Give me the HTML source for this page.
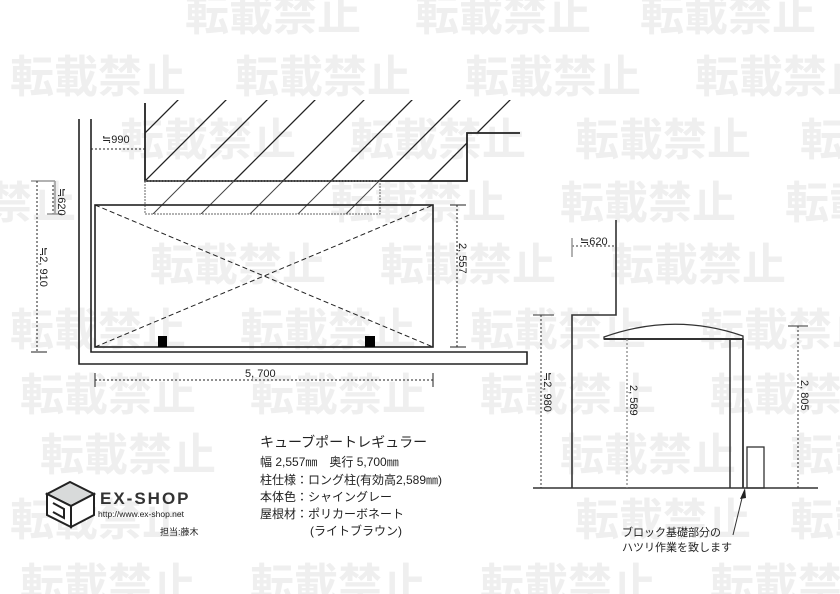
<!DOCTYPE html>
<html><head><meta charset="utf-8"><style>
html,body{margin:0;padding:0;background:#fff;}
body{width:840px;height:594px;overflow:hidden;position:relative;font-family:"Liberation Sans","Noto Sans CJK JP",sans-serif;}
svg{position:absolute;left:0;top:0;}
</style></head><body>
<svg width="840" height="594" viewBox="0 0 840 594" xmlns="http://www.w3.org/2000/svg" font-family="Liberation Sans, Noto Sans CJK JP, sans-serif">
<g fill="#efefef" font-size="44" font-weight="bold" font-family="Noto Sans CJK JP, sans-serif">
<text x="185" y="30">転載禁止</text><text x="415" y="30">転載禁止</text><text x="640" y="30">転載禁止</text>
<text x="10" y="92">転載禁止</text><text x="235" y="92">転載禁止</text><text x="465" y="92">転載禁止</text><text x="695" y="92">転載禁止</text>
<text x="120" y="155">転載禁止</text><text x="350" y="155">転載禁止</text><text x="575" y="155">転載禁止</text><text x="800" y="155">転載禁止</text>
<text x="-100" y="218">転載禁止</text><text x="330" y="218">転載禁止</text><text x="560" y="218">転載禁止</text><text x="785" y="218">転載禁止</text>
<text x="150" y="280">転載禁止</text><text x="380" y="280">転載禁止</text><text x="610" y="280">転載禁止</text>
<text x="10" y="345">転載禁止</text><text x="240" y="345">転載禁止</text><text x="470" y="345">転載禁止</text><text x="700" y="345">転載禁止</text>
<text x="20" y="410">転載禁止</text><text x="250" y="410">転載禁止</text><text x="480" y="410">転載禁止</text><text x="710" y="410">転載禁止</text>
<text x="40" y="470">転載禁止</text><text x="560" y="470">転載禁止</text><text x="790" y="470">転載禁止</text>
<text x="10" y="535">転載禁止</text><text x="575" y="535">転載禁止</text><text x="790" y="535">転載禁止</text>
<text x="20" y="600">転載禁止</text><text x="250" y="600">転載禁止</text><text x="480" y="600">転載禁止</text><text x="710" y="600">転載禁止</text>
</g>
<defs>
<clipPath id="c1"><polygon points="145,100 518,100 518,133 467,133 467,181 145,181"/></clipPath>
<clipPath id="c2"><rect x="145" y="181" width="235" height="33"/></clipPath>
</defs>
<g clip-path="url(#c1)" stroke="#222" stroke-width="1.3">
<line x1="97" y1="181" x2="197" y2="81"/><line x1="145" y1="181" x2="245" y2="81"/><line x1="186" y1="181" x2="286" y2="81"/><line x1="234" y1="181" x2="334" y2="81"/><line x1="283" y1="181" x2="383" y2="81"/><line x1="331" y1="181" x2="431" y2="81"/><line x1="379" y1="181" x2="479" y2="81"/><line x1="429" y1="181" x2="529" y2="81"/><line x1="477" y1="181" x2="577" y2="81"/>
</g>
<g clip-path="url(#c2)" stroke="#444" stroke-width="1">
<line x1="186" y1="181" x2="136" y2="231"/><line x1="234" y1="181" x2="184" y2="231"/><line x1="283" y1="181" x2="233" y2="231"/><line x1="331" y1="181" x2="281" y2="231"/><line x1="379" y1="181" x2="329" y2="231"/><line x1="429" y1="181" x2="379" y2="231"/>
</g>
<g fill="none" stroke="#222">
<polyline points="145,103 145,181 467,181 467,133 520,133" stroke-width="1.8"/>
<rect x="145" y="181" width="235" height="33" stroke="#666" stroke-dasharray="2,1"/>
<polyline points="79,119 79,364 527,364 527,352 91,352 91,119" stroke-width="1.6"/>
<rect x="95" y="205" width="338" height="142" stroke-width="1.6"/>
<line x1="95" y1="205" x2="433" y2="347" stroke-dasharray="5,3"/>
<line x1="95" y1="347" x2="433" y2="205" stroke-dasharray="5,3"/>
<line x1="91" y1="149" x2="145" y2="149" stroke-dasharray="2,2"/>
<line x1="31" y1="181" x2="55" y2="181" stroke="#999" stroke-width="1.5"/>
<line x1="55" y1="181" x2="55" y2="214" stroke="#999" stroke-width="1.5"/>
<line x1="53" y1="185" x2="53" y2="214" stroke-dasharray="2,2"/>
<line x1="47" y1="214" x2="62" y2="214" stroke="#999" stroke-width="1.5"/>
<line x1="37" y1="181" x2="37" y2="352" stroke-dasharray="2,2"/>
<line x1="31" y1="352" x2="47" y2="352"/>
<line x1="457" y1="205" x2="457" y2="347" stroke-dasharray="2,2"/>
<line x1="450" y1="205" x2="466" y2="205"/>
<line x1="450" y1="347" x2="466" y2="347"/>
<line x1="95" y1="380" x2="433" y2="380" stroke-dasharray="2,2"/>
<line x1="95" y1="373" x2="95" y2="387"/><line x1="433" y1="373" x2="433" y2="387"/>
</g>
<rect x="158" y="336" width="9" height="11" fill="#000"/>
<rect x="365" y="336" width="10" height="11" fill="#000"/>
<g font-size="11" fill="#222">
<text x="102" y="143">≒990</text>
<text x="245" y="377">5, 700</text>
<text transform="translate(58,188) rotate(90)">≒620</text>
<text transform="translate(40,247) rotate(90)">≒2, 910</text>
<text transform="translate(459,243) rotate(90)">2, 557</text>
</g>
<g fill="none" stroke="#333">
<polyline points="616,220 616,315 572,315 572,488" stroke-width="1.6"/>
<line x1="533" y1="488" x2="818" y2="488" stroke-width="1.5"/>
<line x1="572" y1="246" x2="616" y2="246" stroke-dasharray="2,2"/>
<line x1="572" y1="238" x2="572" y2="257" stroke="#999" stroke-width="1.5"/>
<path d="M604,337 Q674,312 743,336 L743,339 L604,339 Z" stroke-width="1.3"/>
<line x1="604" y1="339" x2="743" y2="339" stroke-width="2"/>
<line x1="730" y1="339" x2="730" y2="488" stroke-width="1.5"/>
<line x1="743" y1="339" x2="743" y2="488" stroke-width="1.8"/>
<rect x="747" y="447" width="17" height="41" stroke-width="1.3"/>
<line x1="541" y1="315" x2="541" y2="488" stroke-dasharray="2,2"/>
<line x1="533" y1="315" x2="554" y2="315"/>
<line x1="627" y1="339" x2="627" y2="488" stroke="#888" stroke-dasharray="2,2" stroke-width="1.3"/>
<line x1="798" y1="326" x2="798" y2="488" stroke-dasharray="2,2"/>
<line x1="788" y1="326" x2="808" y2="326"/>
<line x1="733" y1="535" x2="743" y2="494"/>
</g>
<polygon points="745,488 740,499 746,498" fill="#222"/>
<g font-size="11" fill="#222">
<text x="580" y="245">≒620</text>
<text transform="translate(544,372) rotate(90)">≒2, 980</text>
<text transform="translate(630,385) rotate(90)">2, 589</text>
<text transform="translate(801,380) rotate(90)">2, 805</text>
</g>
<g font-size="11" fill="#222" font-family="Noto Sans CJK JP, sans-serif">
<text x="622" y="536">ブロック基礎部分の</text>
<text x="622" y="551">ハツリ作業を致します</text>
</g>
<g fill="#222" font-family="Liberation Sans, Noto Sans CJK JP, sans-serif">
<text x="260" y="447" font-size="14">キューブポートレギュラー</text>
<g font-size="12">
<text x="260" y="466">幅 2,557㎜　奥行 5,700㎜</text>
<text x="260" y="484">柱仕様：ロング柱(有効高2,589㎜)</text>
<text x="260" y="501">本体色：シャイングレー</text>
<text x="260" y="518">屋根材：ポリカーボネート</text>
<text x="310" y="535">(ライトブラウン)</text>
</g>
</g>
<g stroke="#222" stroke-width="2" fill="none">
<polygon points="47,494 70,482 94,494 71,506" fill="#d8dada"/>
<polygon points="47,494 71,506 71,527 47,515" fill="#fff"/>
<polygon points="71,506 94,494 94,515 71,527" fill="#fff"/>
<polyline points="53,503 64,509 64,518 53,512"/>
</g>
<text x="100" y="504" font-size="17" font-weight="bold" fill="#333" letter-spacing="2">EX-SHOP</text>
<text x="98" y="517" font-size="8.5" fill="#222">http://www.ex-shop.net</text>
<text x="160" y="535" font-size="9" fill="#222">担当:藤木</text>
</svg>
</body></html>
